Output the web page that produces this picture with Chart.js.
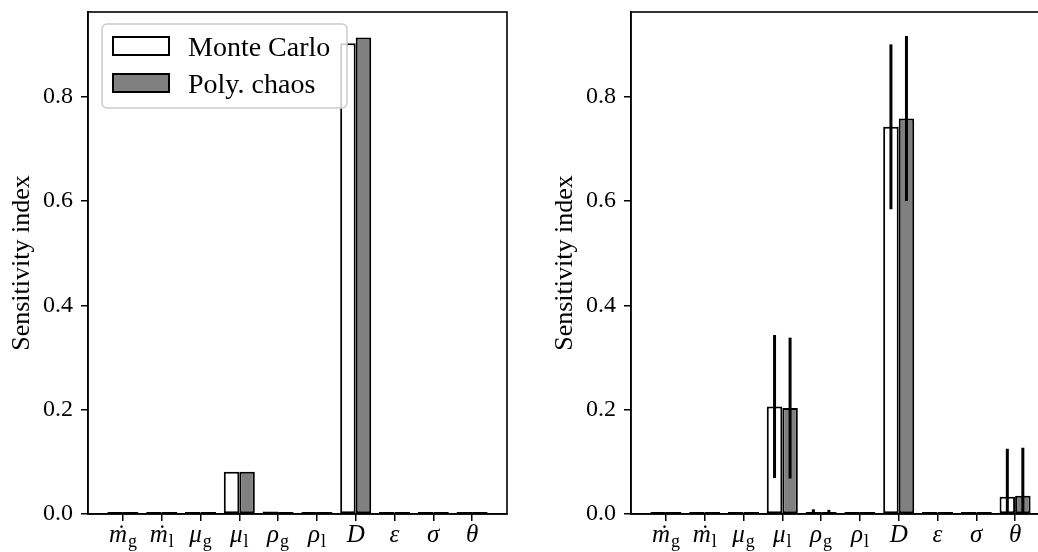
<!DOCTYPE html>
<html>
<head>
<meta charset="utf-8">
<script src="https://cdn.jsdelivr.net/npm/chart.js@4.4.1/dist/chart.umd.min.js"></script>
<style>
  html, body { margin: 0; padding: 0; background: #fff; overflow: hidden; }
  #wrap { position: relative; width: 1038px; height: 552px; overflow: hidden; }
  canvas { position: absolute; top: 0; }
  #leftChart { left: 0; }
  #rightChart { left: 519px; }
</style>
</head>
<body>
<div id="wrap">
  <canvas id="leftChart" width="519" height="552"></canvas>
  <canvas id="rightChart" width="545" height="552"></canvas>
</div>
<script>
// parameters (symbol_subscript)
const params = ['ṁ_g', 'ṁ_l', 'μ_g', 'μ_l', 'ρ_g', 'ρ_l', 'D', 'ε', 'σ', 'θ'];
const yTicks = [0, 0.2, 0.4, 0.6, 0.8];

// left panel
const leftMC = [0.001, 0.001, 0.001, 0.081, 0.005, 0.001, 0.902, 0.001, 0.001, 0.001];
const leftPC = [0.001, 0.001, 0.001, 0.081, 0.004, 0.001, 0.913, 0.001, 0.001, 0.001];

// right panel, with error bars
const rightMC = [0.001, 0.001, 0.001, 0.206, 0.004, 0.001, 0.742, 0.001, 0.001, 0.033];
const rightPC = [0.001, 0.001, 0.001, 0.203, 0.003, 0.001, 0.758, 0.001, 0.001, 0.035];
const rightMCerr = [0.001, 0.001, 0.001, 0.137, 0.005, 0.001, 0.158, 0.001, 0.001, 0.092];
const rightPCerr = [0.001, 0.001, 0.001, 0.135, 0.005, 0.001, 0.158, 0.001, 0.001, 0.092];

const serif = '"Liberation Serif", "DejaVu Serif", serif';

// frame around the plot area (all four spines)
const boxPlugin = {
    id: 'box',
    afterDraw(chart) {
        const a = chart.chartArea, ctx = chart.ctx;
        ctx.save();
        ctx.strokeStyle = 'black';
        ctx.lineWidth = 1.6;
        ctx.strokeRect(a.left, a.top, a.right - a.left, a.bottom - a.top);
        ctx.restore();
    }
};

// vertical error bars on top of each bar
const errorBars = {
    id: 'errorBars',
    afterDatasetsDraw(chart) {
        const ctx = chart.ctx, y = chart.scales.y, a = chart.chartArea;
        ctx.save();
        ctx.beginPath();
        ctx.rect(a.left, a.top, a.right - a.left, a.bottom - a.top);
        ctx.clip();
        ctx.strokeStyle = 'black';
        ctx.lineWidth = 3;
        chart.data.datasets.forEach((ds, d) => {
            if (!ds.errors) return;
            chart.getDatasetMeta(d).data.forEach((bar, i) => {
                const v = ds.data[i].y, e = ds.errors[i];
                ctx.beginPath();
                ctx.moveTo(bar.x, y.getPixelForValue(v - e));
                ctx.lineTo(bar.x, y.getPixelForValue(v + e));
                ctx.stroke();
            });
        });
        ctx.restore();
    }
};

// x tick labels with subscripts / dot accent
const mathLabels = {
    id: 'mathLabels',
    afterDraw(chart) {
        const ctx = chart.ctx, xs = chart.scales.x;
        const base = chart.chartArea.bottom + 28;
        const mainFont = 'italic 25px ' + serif;
        const subFont = '18px ' + serif;
        ctx.save();
        ctx.fillStyle = 'black';
        ctx.textBaseline = 'alphabetic';
        params.forEach((p, i) => {
            const parts = p.split('_');
            const dotted = parts[0] === 'ṁ';
            const main = dotted ? 'm' : parts[0];
            const sub = parts[1] || '';
            ctx.font = mainFont;
            const w1 = ctx.measureText(main).width;
            ctx.font = subFont;
            const w2 = sub ? ctx.measureText(sub).width + 1 : 0;
            const x0 = xs.getPixelForValue(i) - (w1 + w2) / 2;
            ctx.font = mainFont;
            ctx.textAlign = 'left';
            ctx.fillText(main, x0, base);
            if (dotted) {
                ctx.textAlign = 'center';
                ctx.fillText('˙', x0 + w1 / 2 + 2, base);
            }
            if (sub) {
                ctx.font = subFont;
                ctx.textAlign = 'left';
                ctx.fillText(sub, x0 + w1 + 1, base + 5);
            }
        });
        ctx.restore();
    }
};

// matplotlib-style legend box in the upper left of the plot area
const boxLegend = {
    id: 'boxLegend',
    afterDraw(chart, args, opts) {
        if (!opts.show) return;
        const ctx = chart.ctx, a = chart.chartArea;
        const x = a.left + 14, y = a.top + 12;
        ctx.save();
        ctx.beginPath();
        ctx.roundRect(x, y, 245, 84, 5);
        ctx.fillStyle = 'rgba(255,255,255,0.8)';
        ctx.fill();
        ctx.strokeStyle = '#cccccc';
        ctx.lineWidth = 1.5;
        ctx.stroke();
        ctx.font = '28px ' + serif;
        ctx.textBaseline = 'alphabetic';
        ctx.textAlign = 'left';
        chart.data.datasets.forEach((ds, k) => {
            const py = y + 13 + k * 37;
            ctx.fillStyle = ds.backgroundColor;
            ctx.fillRect(x + 11, py, 56, 18);
            ctx.strokeStyle = 'black';
            ctx.lineWidth = 2;
            ctx.strokeRect(x + 11, py, 56, 18);
            ctx.fillStyle = 'black';
            ctx.fillText(ds.label, x + 86, py + 19);
        });
        ctx.restore();
    }
};

function barSet(label, values, color, errors) {
    return {
        label: label,
        data: values.map((v, i) => ({ x: i, y: v })),
        backgroundColor: color,
        borderColor: 'black',
        borderWidth: 2,
        borderSkipped: false,
        minBarLength: 2,
        categoryPercentage: 0.8,
        barPercentage: 1.0,
        errors: errors
    };
}

function makeChart(id, mc, pc, mcErr, pcErr, padLeft, padRight, showLegend) {
    return new Chart(document.getElementById(id), {
        type: 'bar',
        data: {
            datasets: [
                barSet('Monte Carlo', mc, 'white', mcErr),
                barSet('Poly. chaos', pc, 'gray', pcErr)
            ]
        },
        plugins: [errorBars, boxPlugin, mathLabels, boxLegend],
        options: {
            responsive: false,
            animation: false,
            layout: { padding: { left: padLeft, right: padRight, top: 12, bottom: 0 } },
            plugins: {
                legend: { display: false },
                tooltip: { enabled: false },
                boxLegend: { show: showLegend }
            },
            scales: {
                x: {
                    type: 'linear',
                    min: -0.9,
                    max: 9.9,
                    offset: false,
                    afterBuildTicks: s => { s.ticks = params.map((_, i) => ({ value: i })); },
                    afterFit: s => { s.height = 38; s.paddingLeft = 0; s.paddingRight = 0; },
                    ticks: { callback: () => '', maxRotation: 0 },
                    grid: { drawOnChartArea: false, drawTicks: true, tickLength: 7, color: 'black', lineWidth: 1.5, offset: false },
                    border: { display: true, color: 'black', width: 1.5 }
                },
                y: {
                    min: 0,
                    max: 0.962,
                    afterBuildTicks: s => { s.ticks = yTicks.map(v => ({ value: v })); },
                    afterFit: s => { s.width = 88; s.paddingTop = 0; s.paddingBottom = 0; },
                    ticks: {
                        callback: v => v.toFixed(1),
                        padding: 8,
                        color: 'black',
                        font: { family: serif, size: 24 }
                    },
                    grid: { drawOnChartArea: false, drawTicks: true, tickLength: 7, color: 'black', lineWidth: 1.5 },
                    border: { display: true, color: 'black', width: 1.5 },
                    title: {
                        display: true,
                        text: 'Sensitivity index',
                        color: 'black',
                        font: { family: serif, size: 26 },
                        padding: { top: 7, bottom: 0 }
                    }
                }
            }
        }
    });
}

const leftChart = makeChart('leftChart', leftMC, leftPC, null, null, 0, 12, true);
const rightChart = makeChart('rightChart', rightMC, rightPC, rightMCerr, rightPCerr, 24, 14, false);
</script>
</body>
</html>
